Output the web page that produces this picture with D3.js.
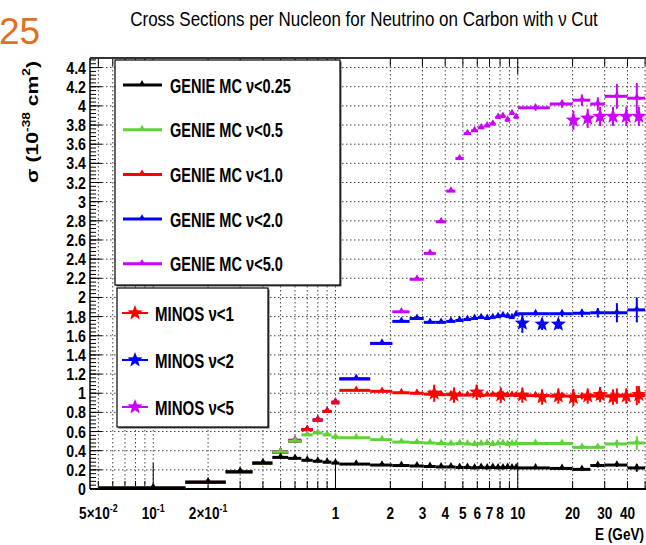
<!DOCTYPE html>
<html>
<head>
<meta charset="utf-8">
<script src="https://cdn.jsdelivr.net/npm/d3@7"></script>
<style>
body { margin: 0; background: #fff; }
text { font-family: "Liberation Sans", Arial, sans-serif; font-weight: bold; }
</style>
</head>
<body>
<div id="chart"></div>
<script>
// GENIE histogram bin edges (GeV)
const binEdges = [0.05,0.15,0.25,0.35,0.45,0.55,0.65,0.75,0.85,0.95,1.05,1.55,2.05,2.55,3.05,3.55,4.05,4.55,5.05,5.55,6.05,6.55,7.05,7.55,8.05,8.55,9.05,9.55,10.05,15,20,25,30,40,50];

// cross sections per bin, 10^-38 cm^2
const genie025 = [0.01,0.07,0.18,0.27,0.33,0.32,0.30,0.29,0.28,0.27, 0.26,0.25,0.245,0.24,0.235,0.23,0.23,0.225,0.225,0.22,0.225,0.22,0.225,0.22,0.22,0.225,0.22,0.22, 0.22,0.215,0.205,0.245,0.25,0.22];
const genie05  = [0.01,0.07,0.18,0.27,0.385,0.50,0.565,0.585,0.565,0.54, 0.535,0.515,0.49,0.485,0.48,0.475,0.47,0.475,0.47,0.465,0.47,0.475,0.465,0.47,0.475,0.465,0.47,0.47, 0.475,0.475,0.435,0.435,0.47,0.48];
const genie10  = [0.01,0.07,0.18,0.27,0.385,0.50,0.62,0.72,0.81,0.90, 1.03,1.02,1.005,1.0,0.99,0.985,0.985,0.98,0.98,0.985,0.975,0.98,0.98,0.975,0.98,0.975,0.98,0.975, 0.975,0.97,0.965,0.97,0.97,0.975];
const genie20  = [0.01,0.07,0.18,0.27,0.385,0.50,0.62,0.72,0.81,0.90, 1.15,1.52,1.75,1.78,1.74,1.74,1.75,1.76,1.77,1.78,1.79,1.78,1.79,1.80,1.81,1.80,1.79,1.82, 1.83,1.83,1.835,1.84,1.84,1.87];
const genie50  = [0.01,0.07,0.18,0.27,0.385,0.51,0.62,0.72,0.81,0.91, 1.15,1.52,1.85,2.19,2.46,2.79,3.11,3.45,3.71,3.74,3.77,3.79,3.81,3.88,3.89,3.85,3.92,3.88, 3.98,4.02,4.06,4.02,4.10,4.08];

// vertical errors of the last six (wide) bins
const err025 = [0.01,0.01,0.01,0.02,0.02,0.04];
const err05  = [0.01,0.01,0.02,0.02,0.04,0.07];
const err10  = [0.02,0.02,0.03,0.04,0.08,0.10];
const err20  = [0.02,0.03,0.04,0.05,0.10,0.13];
const err50  = [0.03,0.04,0.06,0.07,0.13,0.16];

// MINOS points
const minosE = [3.48,4.47,5.95,8.07,10.6,13.6,16.7,20.2,24.2,28.3,33.3,39.4,46.2];
const minos1 = [1.00,0.98,1.01,0.98,0.98,0.96,0.97,0.955,0.97,0.985,0.96,0.97,0.985];
const minos1Err = [0.09,0.08,0.08,0.08,0.08,0.08,0.08,0.09,0.08,0.08,0.08,0.08,0.09];
const minos2E = [10.6,13.6,16.7];
const minos2 = [1.73,1.72,1.72];
const minos2Err = [0.1,0.06,0.05];
const minos5E = [20.2,24.2,28.3,33.3,39.4,46.2];
const minos5 = [3.85,3.87,3.89,3.89,3.89,3.89];
const minos5Err = [0.1,0.1,0.1,0.1,0.1,0.1];

// axis labels
const xLabelVals = [0.05,0.1,0.2,1,2,3,4,5,6,7,8,10,20,30,40];
const xLabelText = ["5×10^-2","10^-1","2×10^-1","1","2","3","4","5","6","7","8","10","20","30","40"];

const W = 646, H = 545;
const plot = {left: 90, top: 58, right: 700, bottom: 489};

const svg = d3.select("#chart").append("svg").attr("width", W).attr("height", H);

const x = d3.scaleLog().domain([0.045, 100]).range([plot.left, plot.right]);
const y = d3.scaleLinear().domain([0, 4.5]).range([plot.bottom, plot.top]);

svg.append("defs").append("clipPath").attr("id", "clip")
  .append("rect").attr("x", plot.left).attr("y", plot.top)
  .attr("width", plot.right - plot.left).attr("height", plot.bottom - plot.top);

function squeeze(g, px, py, k, size, anchor, rot) {
  return g.append("text")
    .attr("transform", `translate(${px},${py})` + (rot ? ` rotate(${rot})` : "") + ` scale(${k},1)`)
    .attr("text-anchor", anchor || "start")
    .attr("font-size", size);
}

// squeeze a text so that it is exactly `width` px long
function fit(t, px, py, width, rot) {
  const len = t.node().getComputedTextLength();
  t.attr("transform", `translate(${px},${py})` + (rot ? ` rotate(${rot})` : "") + ` scale(${width / len},1)`);
  return t;
}

function addSup(t, str, size) {
  const parts = str.split("^");
  t.append("tspan").text(parts[0]);
  if (parts[1]) {
    t.append("tspan").attr("font-size", size * 0.65).attr("dy", -size * 0.42).text(parts[1]);
  }
}

function starPath(R) {
  const r = R * 0.42;
  let p = "";
  for (let i = 0; i < 10; i++) {
    const a = -Math.PI / 2 + i * Math.PI / 5;
    const rr = i % 2 ? r : R;
    p += (i ? "L" : "M") + (rr * Math.cos(a)).toFixed(2) + "," + (rr * Math.sin(a)).toFixed(2);
  }
  return p + "Z";
}

// page number and title
svg.append("text").attr("x", -1).attr("y", 44).attr("font-size", 37)
  .style("font-weight", "normal").attr("fill", "#e07022").text("25");

const title = squeeze(svg, 0, 0, 1, 21, "middle").style("font-weight", "normal")
  .text("Cross Sections per Nucleon for Neutrino on Carbon with ν Cut");
fit(title, 364, 26, 468);

// grid
const grid = svg.append("g").attr("clip-path", "url(#clip)")
  .attr("stroke", "#444").attr("stroke-width", 1).attr("stroke-dasharray", "1.5,2.5");
const xTicks = x.ticks();
grid.selectAll("line.v").data(xTicks).enter().append("line")
  .attr("x1", d => x(d)).attr("x2", d => x(d))
  .attr("y1", plot.top).attr("y2", plot.bottom);
const yMajor = y.ticks(22);
grid.selectAll("line.h").data(yMajor.filter(d => d > 0)).enter().append("line")
  .attr("x1", plot.left).attr("x2", plot.right)
  .attr("y1", d => y(d)).attr("y2", d => y(d));

// ticks
const axes = svg.append("g").attr("stroke", "#000").attr("stroke-width", 1);
const isDecade = d => Math.abs(Math.log10(d) - Math.round(Math.log10(d))) < 1e-9;
axes.selectAll("line.xb").data(xTicks.filter(d => x(d) < W)).enter().append("line")
  .attr("x1", d => x(d)).attr("x2", d => x(d))
  .attr("y1", plot.bottom).attr("y2", d => plot.bottom - (isDecade(d) ? 26 : 8));
axes.selectAll("line.xt").data(xTicks.filter(d => x(d) < W)).enter().append("line")
  .attr("x1", d => x(d)).attr("x2", d => x(d))
  .attr("y1", plot.top).attr("y2", d => plot.top + (isDecade(d) ? 16 : 8));
const yMinor = d3.range(0, 4.5, 0.04);
axes.selectAll("line.ym").data(yMinor).enter().append("line")
  .attr("x1", plot.left).attr("x2", plot.left + 6)
  .attr("y1", d => y(d)).attr("y2", d => y(d));
axes.selectAll("line.yM").data(yMajor).enter().append("line")
  .attr("x1", plot.left).attr("x2", plot.left + 12)
  .attr("y1", d => y(d)).attr("y2", d => y(d));

// frame
svg.append("line").attr("x1", plot.left).attr("x2", plot.left).attr("y1", plot.top).attr("y2", plot.bottom)
  .attr("stroke", "#000").attr("stroke-width", 1.5);
svg.append("line").attr("x1", plot.left).attr("x2", plot.right).attr("y1", plot.bottom).attr("y2", plot.bottom)
  .attr("stroke", "#000").attr("stroke-width", 2);
svg.append("line").attr("x1", plot.left).attr("x2", plot.right).attr("y1", plot.top).attr("y2", plot.top)
  .attr("stroke", "#333").attr("stroke-width", 2);

// tick labels
yMajor.forEach(d => {
  squeeze(svg, 86, y(d) + 6, 0.86, 16.5, "end").text(String(+d.toFixed(1)));
});
xLabelVals.forEach((v, i) => {
  const t = squeeze(svg, x(v), 519, 0.8, 17, "middle");
  addSup(t, xLabelText[i], 17);
});
squeeze(svg, 595, 540, 0.8, 17, "start").text("E (GeV)");
const yt = squeeze(svg, 0, 0, 1, 17, "end");
yt.append("tspan").text("σ (10");
yt.append("tspan").attr("font-size", 11).attr("dy", -8).text("-38");
yt.append("tspan").attr("dy", 8).text(" cm");
yt.append("tspan").attr("font-size", 11).attr("dy", -8).text("2");
yt.append("tspan").attr("dy", 8).text(")");
fit(yt, 38, 61, 122, -90);

// GENIE histograms
const bins = binEdges.slice(0, -1).map((lo, i) => ({lo: lo, hi: binEdges[i + 1], c: (lo + binEdges[i + 1]) / 2}));
const nLow = bins.length - 6;
const genie = [
  {name: "GENIE MC ν<0.25", color: "#000000", vals: genie025, err: err025},
  {name: "GENIE MC ν<0.5",  color: "#5fd23a", vals: genie05,  err: err05},
  {name: "GENIE MC ν<1.0",  color: "#ff0000", vals: genie10,  err: err10},
  {name: "GENIE MC ν<2.0",  color: "#0000ff", vals: genie20,  err: err20},
  {name: "GENIE MC ν<5.0",  color: "#cc00ff", vals: genie50,  err: err50}
];
const tri = d3.symbol().type(d3.symbolTriangle).size(20);
const hist = svg.append("g").attr("clip-path", "url(#clip)");
genie.slice().reverse().forEach(s => {
  const pts = bins.map((b, i) => ({b: b, v: s.vals[i], e: i >= nLow ? s.err[i - nLow] : 0}));
  const g = hist.append("g").attr("stroke", s.color).attr("fill", s.color);
  g.selectAll("line.h").data(pts).enter().append("line")
    .attr("x1", d => x(d.b.lo)).attr("x2", d => x(d.b.hi))
    .attr("y1", d => y(d.v)).attr("y2", d => y(d.v)).attr("stroke-width", 3);
  g.selectAll("line.e").data(pts.filter(d => d.e > 0)).enter().append("line")
    .attr("x1", d => x(d.b.c)).attr("x2", d => x(d.b.c))
    .attr("y1", d => y(d.v - d.e)).attr("y2", d => y(d.v + d.e)).attr("stroke-width", 2);
  g.selectAll("path").data(pts).enter().append("path")
    .attr("d", tri).attr("stroke", "none")
    .attr("transform", d => `translate(${x(d.b.c)},${y(d.v) - 1})`);
});

// MINOS stars
const minos = [
  {name: "MINOS ν<1", color: "#ff0000", e: minosE, vals: minos1, err: minos1Err},
  {name: "MINOS ν<2", color: "#0000ff", e: minos2E, vals: minos2, err: minos2Err},
  {name: "MINOS ν<5", color: "#cc00ff", e: minos5E, vals: minos5, err: minos5Err}
];
const star = starPath(8);
minos.forEach(s => {
  const pts = s.e.map((e, i) => ({e: e, v: s.vals[i], err: s.err[i]}));
  const g = hist.append("g").attr("fill", s.color).attr("stroke", s.color);
  g.selectAll("line").data(pts).enter().append("line")
    .attr("x1", d => x(d.e)).attr("x2", d => x(d.e))
    .attr("y1", d => y(d.v - d.err)).attr("y2", d => y(d.v + d.err)).attr("stroke-width", 2);
  g.selectAll("path").data(pts).enter().append("path")
    .attr("d", star).attr("stroke", "none")
    .attr("transform", d => `translate(${x(d.e)},${y(d.v)})`);
});

// legends
function legendBox(x0, y0, w, h) {
  svg.append("rect").attr("x", x0 + 1.5).attr("y", y0 + 1.5).attr("width", w).attr("height", h).attr("fill", "#555");
  svg.append("rect").attr("x", x0).attr("y", y0).attr("width", w).attr("height", h)
    .attr("fill", "#fff").attr("stroke", "#000").attr("stroke-width", 1.2);
}
legendBox(115, 60, 225, 225);
genie.forEach((s, i) => {
  const cy = 85 + i * 44.7;
  svg.append("line").attr("x1", 123).attr("x2", 162).attr("y1", cy).attr("y2", cy)
    .attr("stroke", s.color).attr("stroke-width", 3);
  svg.append("path").attr("d", tri).attr("fill", s.color).attr("transform", `translate(142,${cy - 1})`);
  const t = squeeze(svg, 0, 0, 1, 21, "start").text(s.name);
  fit(t, 170, cy + 7.5, s.name.length === 15 ? 121 : 113);
});
legendBox(117, 288, 151, 139);
minos.forEach((s, i) => {
  const cy = 313 + i * 47;
  svg.append("line").attr("x1", 122).attr("x2", 148).attr("y1", cy).attr("y2", cy)
    .attr("stroke", s.color).attr("stroke-width", 2);
  svg.append("path").attr("d", star).attr("fill", s.color).attr("transform", `translate(135,${cy})`);
  const t = squeeze(svg, 0, 0, 1, 21, "start").text(s.name);
  fit(t, 155, cy + 7.5, 79);
});
</script>
</body>
</html>
